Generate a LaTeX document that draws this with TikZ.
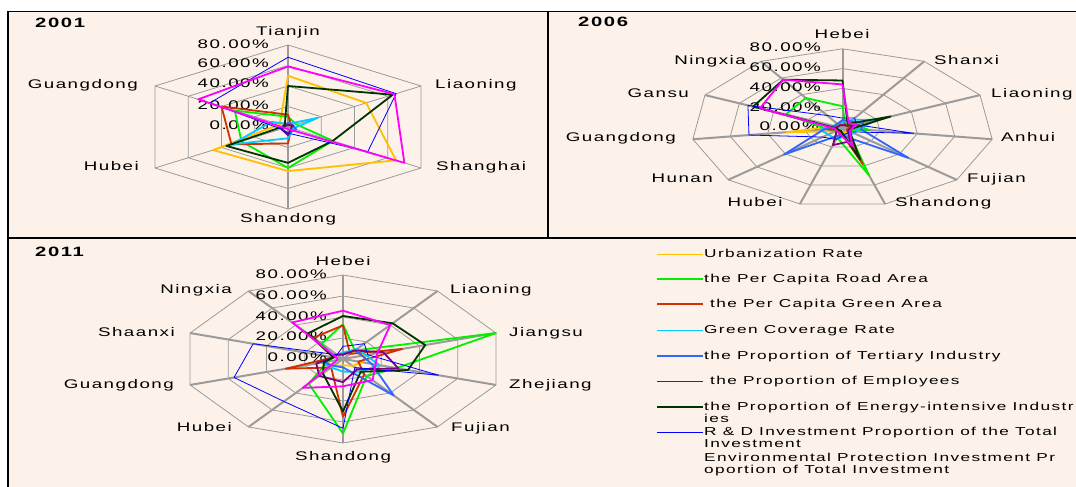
\documentclass[tikz,border=0pt]{standalone}
\usepackage{fontspec}
\usepackage{graphicx}
\newfontfamily\chartfont[LetterSpace=8]{Liberation Sans}
\definecolor{paper}{RGB}{252,242,233}
\definecolor{gridgray}{RGB}{155,155,155}
\definecolor{urbanc}{RGB}{255,192,0}
\definecolor{roadc}{RGB}{0,240,0}
\definecolor{greenareac}{RGB}{204,51,0}
\definecolor{coverc}{RGB}{0,204,255}
\definecolor{tertc}{RGB}{51,102,255}
\definecolor{employc}{RGB}{128,0,128}
\definecolor{energyc}{RGB}{0,51,0}
\definecolor{rdc}{RGB}{0,0,255}
\definecolor{envc}{RGB}{255,0,255}
\newcommand{\wide}[1]{\scalebox{1.5}[1]{#1}}
\tikzset{
  gridring/.style={gridgray, line width=0.8pt},
  gridspoke/.style={gridgray, line width=2pt},
  axisname/.style={inner sep=0pt, font=\chartfont\fontsize{12.5}{14}\selectfont},
  pcttext/.style={axisname, anchor=base east},
  yeartext/.style={inner sep=0pt, anchor=base west, font=\chartfont\bfseries\fontsize{13.5}{15}\selectfont},
  keytext/.style={inner sep=0pt, anchor=base west, font=\chartfont\fontsize{11.5}{11}\selectfont},
  serie/.style={line width=1.8pt, line join=round},
  urbanline/.style={serie, urbanc},
  roadline/.style={serie, roadc},
  greenarealine/.style={serie, greenareac},
  coverline/.style={serie, coverc},
  tertline/.style={serie, tertc},
  employline/.style={serie, employc},
  energyline/.style={serie, energyc},
  rdline/.style={rdc, line width=0.8pt, line join=round},
  envline/.style={serie, envc}
}

\begin{document}
\begin{tikzpicture}[x=1pt, y=1pt]
	\useasboundingbox (0,0) rectangle (1076,487);
	\fill[paper] (8,0) rectangle (1076,476);

	% 2001
	\begin{scope}[shift={(288,360)}, x=1.92pt, y=1.025pt]
		\foreach \r in {20,40,60,80}
			\draw[gridring] (90:\r) -- (30:\r) -- (-30:\r) -- (-90:\r) -- (-150:\r) -- (150:\r) -- cycle;
		\foreach \a in {30,-30,-150,150}
			\draw[gridring] (0,0) -- (\a:80);
		\draw[gridspoke] (90:80) -- (-90:80);
	\end{scope}
	\node[yeartext] (y2001) at (35,459) {\wide{2001}};
	\node[axisname, anchor=base] (tianjin) at (288,451.5) {\wide{Tianjin}};
	\node[axisname, anchor=base west] (liaoning1) at (435,398.5) {\wide{Liaoning}};
	\node[axisname, anchor=base west] (shanghai) at (436,316.5) {\wide{Shanghai}};
	\node[axisname, anchor=base] (shandong1) at (288,264.5) {\wide{Shandong}};
	\node[axisname, anchor=base east] (hubei1) at (139,316.5) {\wide{Hubei}};
	\node[axisname, anchor=base east] (guangdong1) at (138,398.5) {\wide{Guangdong}};
	\node[pcttext] (p80a) at (269,438.5) {\wide{80.00\%}};
	\node[pcttext] (p60a) at (269,419.5) {\wide{60.00\%}};
	\node[pcttext] (p40a) at (269,399.5) {\wide{40.00\%}};
	\node[pcttext] (p20a) at (269,377.5) {\wide{20.00\%}};
	\node[pcttext] (p0a) at (269,357.5) {\wide{0.00\%}};
	\begin{scope}[shift={(288,360)}, x=1.92pt, y=1.025pt]
		\draw[urbanline] (90:50) -- (30:47) -- (-30:65) -- (-90:43) -- (-150:45) -- (150:5) -- cycle;
		\draw[roadline] (90:10) -- (30:5) -- (-30:27) -- (-90:40) -- (-150:28) -- (150:32) -- cycle;
		\draw[greenarealine] (90:12) -- (30:2) -- (-30:2) -- (-90:16) -- (-150:34) -- (150:40) -- cycle;
		\draw[coverline] (90:3) -- (30:18) -- (-30:3) -- (-90:11) -- (-150:34) -- (150:10) -- cycle;
		\draw[tertline] (90:4) -- (30:3) -- (-30:5) -- (-90:6) -- (-150:4) -- (150:3) -- cycle;
		\draw[employline] (90:2) -- (30:3) -- (-30:2) -- (-90:8) -- (-150:4) -- (150:2) -- cycle;
		\draw[energyline] (90:40) -- (30:63) -- (-30:27) -- (-90:35) -- (-150:37) -- (150:2) -- cycle;
		\draw[rdline] (90:68) -- (30:65) -- (-30:48) -- (-90:6) -- (-150:4) -- (150:47) -- cycle;
		\draw[envline] (90:59) -- (30:64) -- (-30:70) -- (-90:2) -- (-150:2) -- (150:54) -- cycle;
	\end{scope}

	% 2006
	\begin{scope}[shift={(842.5,359)}, x=1.89pt, y=0.99pt]
		\foreach \r in {20,40,60,80}
			\draw[gridring] (90:\r) \foreach \k in {1,...,10}{ -- (90-\k*360/11:\r)} -- cycle;
		\foreach \k in {0,...,10}
			\draw[gridspoke] (0,0) -- (90-\k*360/11:80);
	\end{scope}
	\node[yeartext] (y2006) at (578,460) {\wide{2006}};
	\node[axisname, anchor=base] (hebei2) at (842,448.5) {\wide{Hebei}};
	\node[axisname, anchor=base west] (shanxi) at (934,422.5) {\wide{Shanxi}};
	\node[axisname, anchor=base west] (liaoning2) at (991,389.5) {\wide{Liaoning}};
	\node[axisname, anchor=base west] (anhui) at (1001,345.5) {\wide{Anhui}};
	\node[axisname, anchor=base west] (fujian2) at (967,304.5) {\wide{Fujian}};
	\node[axisname, anchor=base west] (shandong2) at (895,280.5) {\wide{Shandong}};
	\node[axisname, anchor=base] (hubei2) at (755,280.5) {\wide{Hubei}};
	\node[axisname, anchor=base east] (hunan) at (713,304.5) {\wide{Hunan}};
	\node[axisname, anchor=base east] (guangdong2) at (676,345.5) {\wide{Guangdong}};
	\node[axisname, anchor=base east] (gansu) at (689,389.5) {\wide{Gansu}};
	\node[axisname, anchor=base east] (ningxia2) at (746,422.5) {\wide{Ningxia}};
	\node[pcttext] (p80b) at (821,435.5) {\wide{80.00\%}};
	\node[pcttext] (p60b) at (821,415.5) {\wide{60.00\%}};
	\node[pcttext] (p40b) at (821,395.5) {\wide{40.00\%}};
	\node[pcttext] (p20b) at (821,375.5) {\wide{20.00\%}};
	\node[pcttext] (p0b) at (819,356.5) {\wide{0.00\%}};
	\begin{scope}[shift={(842.5,359)}, x=1.89pt, y=0.99pt]
		\draw[urbanline] (90:4) -- (57.27:4) -- (24.55:6) -- (-8.18:5) -- (-40.91:4) -- (-73.64:5) -- (-106.36:4) -- (-139.09:5) -- (-171.82:30) -- (155.45:4) -- (122.73:4) -- cycle;
		\draw[roadline] (90:22) -- (57.27:3) -- (24.55:8) -- (-8.18:14) -- (-40.91:4) -- (-73.64:50) -- (-106.36:10) -- (-139.09:5) -- (-171.82:8) -- (155.45:33) -- (122.73:36) -- cycle;
		\draw[greenarealine] (90:8) -- (57.27:3) -- (24.55:4) -- (-8.18:3) -- (-40.91:3) -- (-73.64:38) -- (-106.36:4) -- (-139.09:3) -- (-171.82:10) -- (155.45:3) -- (122.73:3) -- cycle;
		\draw[coverline] (90:6) -- (57.27:10) -- (24.55:20) -- (-8.18:8) -- (-40.91:8) -- (-73.64:8) -- (-106.36:12) -- (-139.09:10) -- (-171.82:12) -- (155.45:5) -- (122.73:5) -- cycle;
		\draw[tertline] (90:8) -- (57.27:8) -- (24.55:12) -- (-8.18:10) -- (-40.91:46) -- (-73.64:10) -- (-106.36:8) -- (-139.09:41) -- (-171.82:10) -- (155.45:5) -- (122.73:5) -- cycle;
		\draw[employline] (90:3) -- (57.27:3) -- (24.55:6) -- (-8.18:4) -- (-40.91:4) -- (-73.64:14) -- (-106.36:18) -- (-139.09:4) -- (-171.82:3) -- (155.45:3) -- (122.73:3) -- cycle;
		\draw[energyline] (90:48) -- (57.27:5) -- (24.55:28) -- (-8.18:5) -- (-40.91:5) -- (-73.64:33) -- (-106.36:3) -- (-139.09:3) -- (-171.82:3) -- (155.45:52) -- (122.73:58) -- cycle;
		\draw[rdline] (90:10) -- (57.27:12) -- (24.55:8) -- (-8.18:38) -- (-40.91:6) -- (-73.64:6) -- (-106.36:12) -- (-139.09:14) -- (-171.82:50) -- (155.45:55) -- (122.73:15) -- cycle;
		\draw[envline] (90:44) -- (57.27:6) -- (24.55:8) -- (-8.18:5) -- (-40.91:5) -- (-73.64:19) -- (-106.36:6) -- (-139.09:4) -- (-171.82:4) -- (155.45:48) -- (122.73:58) -- cycle;
	\end{scope}

	% 2011
	\begin{scope}[shift={(343,128)}, x=2.01pt, y=1.05pt]
		\foreach \r in {20,40,60,80}
			\draw[gridring] (90:\r) \foreach \k in {1,...,9}{ -- (90-\k*36:\r)} -- cycle;
		\foreach \k in {0,...,9}
			\draw[gridspoke] (0,0) -- (90-\k*36:80);
	\end{scope}
	\node[yeartext] (y2011) at (35,230) {\wide{2011}};
	\node[axisname, anchor=base] (hebei3) at (343,221.5) {\wide{Hebei}};
	\node[axisname, anchor=base west] (liaoning3) at (450,193.5) {\wide{Liaoning}};
	\node[axisname, anchor=base west] (jiangsu) at (509,150.5) {\wide{Jiangsu}};
	\node[axisname, anchor=base west] (zhejiang) at (509,98.5) {\wide{Zhejiang}};
	\node[axisname, anchor=base west] (fujian3) at (451,55.5) {\wide{Fujian}};
	\node[axisname, anchor=base] (shandong3) at (343,26.5) {\wide{Shandong}};
	\node[axisname, anchor=base east] (hubei3) at (232,55.5) {\wide{Hubei}};
	\node[axisname, anchor=base east] (guangdong3) at (174,98.5) {\wide{Guangdong}};
	\node[axisname, anchor=base east] (shaanxi) at (175,150.5) {\wide{Shaanxi}};
	\node[axisname, anchor=base east] (ningxia3) at (232,193.5) {\wide{Ningxia}};
	\node[pcttext] (p80c) at (327,208.5) {\wide{80.00\%}};
	\node[pcttext] (p60c) at (327,187.5) {\wide{60.00\%}};
	\node[pcttext] (p40c) at (327,166.5) {\wide{40.00\%}};
	\node[pcttext] (p20c) at (327,146.5) {\wide{20.00\%}};
	\node[pcttext] (p0c) at (327,125.5) {\wide{0.00\%}};
	\begin{scope}[shift={(343,128)}, x=2.01pt, y=1.05pt]
		\draw[urbanline] (90:6) -- (54:8) -- (18:12) -- (-18:10) -- (-54:8) -- (-90:6) -- (-126:8) -- (-162:12) -- (162:5) -- (126:5) -- cycle;
		\draw[roadline] (90:33) -- (54:10) -- (18:80) -- (-18:28) -- (-54:20) -- (-90:71) -- (-126:29) -- (-162:8) -- (162:5) -- (126:18) -- cycle;
		\draw[greenarealine] (90:32) -- (54:6) -- (18:31) -- (-18:8) -- (-54:18) -- (-90:55) -- (-126:10) -- (-162:30) -- (162:5) -- (126:25) -- cycle;
		\draw[coverline] (90:6) -- (54:12) -- (18:12) -- (-18:19) -- (-54:15) -- (-90:12) -- (-126:10) -- (-162:11) -- (162:5) -- (126:5) -- cycle;
		\draw[tertline] (90:5) -- (54:10) -- (18:10) -- (-18:15) -- (-54:43) -- (-90:8) -- (-126:8) -- (-162:10) -- (162:5) -- (126:5) -- cycle;
		\draw[employline] (90:4) -- (54:10) -- (18:21) -- (-18:29) -- (-54:12) -- (-90:22) -- (-126:20) -- (-162:14) -- (162:5) -- (126:5) -- cycle;
		\draw[energyline] (90:41) -- (54:42) -- (18:43) -- (-18:34) -- (-54:15) -- (-90:50) -- (-126:17) -- (-162:10) -- (162:5) -- (126:30) -- cycle;
		\draw[rdline] (90:12) -- (54:18) -- (18:13) -- (-18:50) -- (-54:10) -- (-90:66) -- (-126:50) -- (-162:57) -- (162:47) -- (126:5) -- cycle;
		\draw[envline] (90:46) -- (54:40) -- (18:18) -- (-18:17) -- (-54:25) -- (-90:26) -- (-126:34) -- (-162:3) -- (162:3) -- (126:43) -- cycle;
	\end{scope}

	% key
	\coordinate (k1) at (657,233);
	\coordinate (k2) at (657,208);
	\coordinate (k3) at (657,183);
	\coordinate (k4) at (657,157);
	\coordinate (k5) at (657,131);
	\coordinate (k6) at (657,106);
	\coordinate (k7) at (657,80);
	\coordinate (k8) at (657,55);
	\draw[urbanc, line width=0.8pt] (k1) -- ++(46,0);
	\draw[roadc, line width=1.8pt] (k2) -- ++(46,0);
	\draw[greenareac, line width=1.8pt] (k3) -- ++(46,0);
	\draw[coverc, line width=0.8pt] (k4) -- ++(46,0);
	\draw[tertc, line width=1.8pt] (k5) -- ++(46,0);
	\draw[employc, line width=0.8pt] (k6) -- ++(46,0);
	\draw[energyc, line width=1.8pt] (k7) -- ++(46,0);
	\draw[rdc, line width=0.8pt] (k8) -- ++(46,0);
	\node[keytext] (key1) at (704,229) {\wide{Urbanization Rate}};
	\node[keytext] (key2) at (704,204) {\wide{the Per Capita Road Area}};
	\node[keytext] (key3) at (710,179) {\wide{the Per Capita Green Area}};
	\node[keytext] (key4) at (704,153) {\wide{Green Coverage Rate}};
	\node[keytext] (key5) at (704,127) {\wide{the Proportion of Tertiary Industry}};
	\node[keytext] (key6) at (710,102) {\wide{the Proportion of Employees}};
	\node[keytext] (key7) at (704,76) {\wide{\begin{tabular}[t]{@{}l@{}}the Proportion of Energy-intensive Industr\\ies\end{tabular}}};
	\node[keytext] (key8) at (704,51) {\wide{\begin{tabular}[t]{@{}l@{}}R \& D Investment Proportion of the Total\\Investment\end{tabular}}};
	\node[keytext] (key9) at (704,25) {\wide{\begin{tabular}[t]{@{}l@{}}Environmental Protection Investment Pr\\oportion of Total Investment\end{tabular}}};

	% frame
	\draw[black, line width=1.2pt] (8,0) -- (8,475.5) -- (1076,475.5);
	\draw[black, line width=2pt] (8,249) -- (1076,249);
	\draw[black, line width=2pt] (548,249) -- (548,475.5);
\end{tikzpicture}
\end{document}
